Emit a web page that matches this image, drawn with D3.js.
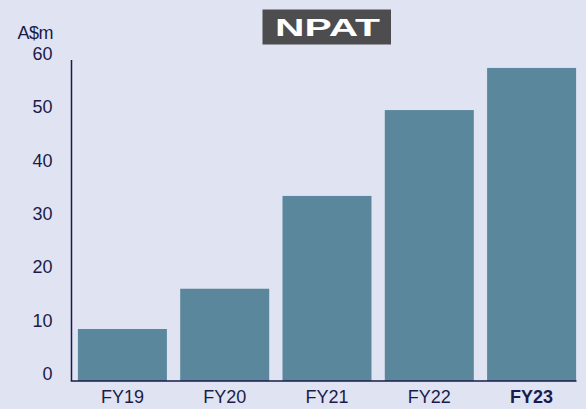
<!DOCTYPE html>
<html>
<head>
<meta charset="utf-8">
<script src="https://cdn.jsdelivr.net/npm/d3@7"></script>
<style>
    html, body { margin: 0; padding: 0; background: #e0e3f1; }
    svg { display: block; font-family: "Liberation Sans", Arial, sans-serif; }
</style>
</head>
<body>
<svg id="chart" width="586" height="409"></svg>
<script>
    'use strict';

    // Chart data
    var years = ['FY19', 'FY20', 'FY21', 'FY22', 'FY23'];
    var npat = [9.75, 17.3, 34.7, 50.8, 58.7];
    var yTicks = [0, 10, 20, 30, 40, 50, 60];
    var boldYear = 'FY23';

    var width = 586,
        height = 409,
        axisColor = '#1b1b4b',
        barColor = '#5a879b';

    var svg = d3.select('#chart');

    svg.append('rect')
        .attr('width', width)
        .attr('height', height)
        .attr('fill', '#e0e3f1');

    var x = d3.scaleBand()
        .domain(years)
        .range([71.25, 582.75])
        .paddingInner(0.13)
        .paddingOuter(0.065);

    var y = d3.scaleLinear()
        .domain([0, 60])
        .range([381, 61]);

    // Bars
    svg.append('g')
        .selectAll('rect')
        .data(years)
        .enter()
        .append('rect')
        .attr('x', d => x(d))
        .attr('width', x.bandwidth())
        .attr('y', (d, i) => y(npat[i]))
        .attr('height', (d, i) => y(0) - y(npat[i]))
        .attr('fill', barColor);

    // Y axis (labels sit a little above their tick value)
    var yAxis = svg.append('g')
        .attr('transform', 'translate(71.5,0)')
        .call(d3.axisLeft(y).tickValues(yTicks).tickSize(0).tickPadding(19));

    yAxis.select('.domain')
        .attr('d', `M0,${y(60) - 1}V${y(0)}`)
        .attr('stroke', axisColor)
        .attr('stroke-width', 1.5);

    yAxis.selectAll('.tick text')
        .attr('dy', '-0.09em')
        .attr('fill', axisColor)
        .style('font-size', '18px')
        .style('font-family', '"Liberation Sans", Arial, sans-serif');

    // X axis
    var xAxis = svg.append('g')
        .attr('transform', `translate(0,${y(0)})`)
        .call(d3.axisBottom(x).tickSize(0).tickPadding(9));

    xAxis.select('.domain')
        .attr('d', 'M70.75,0H576.5')
        .attr('stroke', axisColor)
        .attr('stroke-width', 1.5);

    xAxis.selectAll('.tick text')
        .attr('fill', axisColor)
        .style('font-size', '18px')
        .style('font-weight', d => d === boldYear ? 'bold' : 'normal')
        .style('font-family', '"Liberation Sans", Arial, sans-serif');

    // Unit label
    svg.append('text')
        .attr('x', 53)
        .attr('y', 39)
        .attr('text-anchor', 'end')
        .attr('fill', axisColor)
        .style('font-size', '18px')
        .style('letter-spacing', '-0.5px')
        .text('A$m');

    // Title badge
    var title = svg.append('g');
    title.append('rect')
        .attr('x', 262.5)
        .attr('y', 9.5)
        .attr('width', 128.5)
        .attr('height', 35)
        .attr('fill', '#4d4d4f');
    title.append('text')
        .attr('x', 275)
        .attr('y', 36)
        .attr('fill', '#ffffff')
        .attr('textLength', 105)
        .attr('lengthAdjust', 'spacingAndGlyphs')
        .style('font-size', '23.5px')
        .style('font-weight', 'bold')
        .text('NPAT');
</script>
</body>
</html>
